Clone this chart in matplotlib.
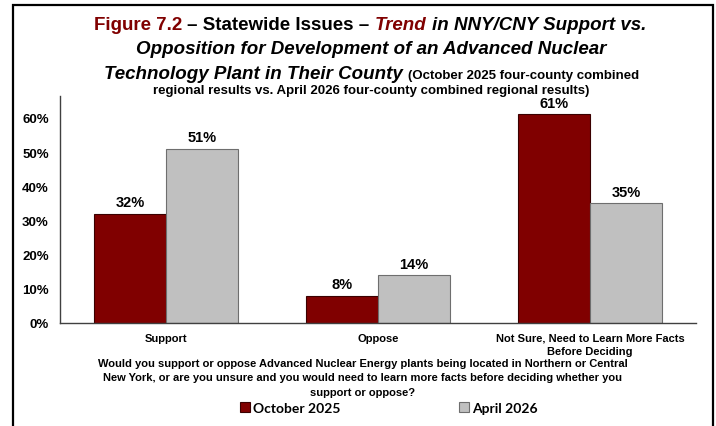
import numpy as np
import matplotlib.pyplot as plt
from matplotlib.patches import Rectangle

# Datos del grafico
categories = ['Support', 'Oppose', 'Not Sure, Need to Learn More Facts\nBefore Deciding']
oct_2025 = [32, 8, 61]
apr_2026 = [51, 14, 35]
series_names = ['October 2025', 'April 2026']
yticks = [0, 10, 20, 30, 40, 50, 60]

red = '#800000'
grey = '#C0C0C0'
W, H = 716, 427

plt.rcParams['font.family'] = ['Liberation Sans', 'DejaVu Sans']
narrow = ['Liberation Sans Narrow', 'Liberation Sans']

fig = plt.figure(figsize=(W / 100, H / 100), dpi=100)
ax = fig.add_axes([60 / W, 103 / H, 636 / W, 227 / H])

x = np.arange(len(categories))
w = 0.34
b1 = ax.bar(x - w / 2, oct_2025, w, color=red, edgecolor='#3a0000', lw=0.8, label=series_names[0])
b2 = ax.bar(x + w / 2, apr_2026, w, color=grey, edgecolor='#6e6e6e', lw=0.8, label=series_names[1])
for b in (b1, b2):
    ax.bar_label(b, labels=[f'{v}%' for v in b.datavalues], padding=3,
                 fontsize=10.5, fontweight='bold')

ax.set_xlim(-0.5, 2.5)
ax.set_ylim(0, 66.4)
ax.set_yticks(yticks)
ax.set_yticklabels([f'{t}%' for t in yticks], fontsize=9.5, fontweight='bold')
ax.set_xticks(x)
ax.set_xticklabels(categories, fontsize=8, fontweight='bold', linespacing=1.4)
ax.tick_params(axis='y', length=0, pad=8)
ax.tick_params(axis='x', length=0, pad=7)
for s in ('top', 'right'):
    ax.spines[s].set_visible(False)
for s in ('left', 'bottom'):
    ax.spines[s].set_color('#404040')
    ax.spines[s].set_linewidth(1)

# Titulo por partes (colores y cursivas distintas)
def centered_line(ybase, pieces, xc):
    texts = []
    for s, kw in pieces:
        texts.append(fig.text(0, 1 - ybase / H, s, va='baseline', ha='left', **kw))
    fig.canvas.draw()
    r = fig.canvas.get_renderer()
    widths = [t.get_window_extent(r).width for t in texts]
    # ancho del espacio
    kwsp = dict(pieces[0][1])
    kwsp.pop('color', None)
    a = fig.text(0, 0, 'x x', **kwsp)
    bb = fig.text(0, 0, 'xx', **kwsp)
    fig.canvas.draw()
    sp = a.get_window_extent(r).width - bb.get_window_extent(r).width
    a.remove()
    bb.remove()
    total = sum(widths) + sp * (len(texts) - 1)
    x0 = xc - total / 2
    for t, wd in zip(texts, widths):
        t.set_x(x0 / W)
        x0 += wd + sp

tk = dict(fontsize=13.5, fontweight='bold', family=narrow)
tki = dict(tk, style='italic')
sk = dict(fontsize=9.5, fontweight='bold', family=narrow)

centered_line(30, [('Figure 7.2', dict(tk, color=red)),
                   ('– Statewide Issues –', dict(tk, color='black')),
                   ('Trend', dict(tki, color=red)),
                   ('in NNY/CNY Support vs.', dict(tki, color='black'))], 370)
centered_line(54, [('Opposition for Development of an Advanced Nuclear', dict(tki, color='black'))], 371)
centered_line(79, [('Technology Plant in Their County', dict(tki, color='black')),
                   ('(October 2025 four-county combined', dict(sk, color='black'))], 372)
centered_line(94, [('regional results vs. April 2026 four-county combined regional results)',
                    dict(sk, color='black'))], 371)

# Pregunta
fig.text(363 / W, 1 - 359 / H,
         'Would you support or oppose Advanced Nuclear Energy plants being located in Northern or Central\n'
         'New York, or are you unsure and you would need to learn more facts before deciding whether you\n'
         'support or oppose?',
         ha='center', va='top', fontsize=8, fontweight='bold', linespacing=1.55)

leg = fig.legend(handles=[b1, b2], labels=series_names, loc='center',
                 bbox_to_anchor=(389 / W, 1 - 409 / H), ncol=2, frameon=False,
                 handlelength=0.7, handleheight=0.7, handletextpad=0.25,
                 columnspacing=8.5, prop=dict(family=['Lato', 'DejaVu Sans'], weight='bold', size=10))

# Marco
fig.patches.append(Rectangle((13 / W, -0.05), 700 / W, 1.05 - 6 / H, transform=fig.transFigure,
                             fill=False, edgecolor='black', lw=1.6))

fig.savefig('out.png', dpi=100)
